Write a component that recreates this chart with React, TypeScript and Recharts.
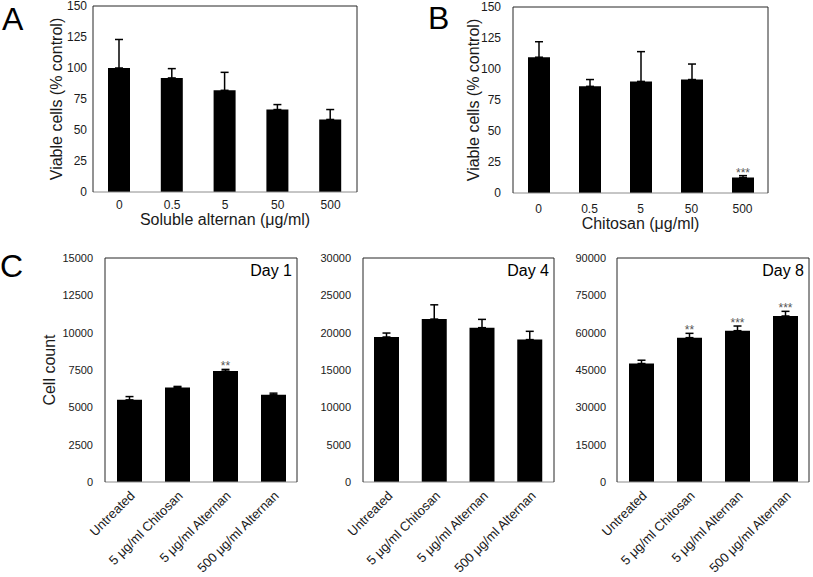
import React from "react";
import { Bar, BarChart, ErrorBar, LabelList, XAxis, YAxis } from "recharts";

const FONT = "'Liberation Sans', Arial, Helvetica, sans-serif";
const BOX = "#262626";
const BASE = "#8c8c8c";
const TEXT = "#1a1a1a";

// panel A / B
const concentrations = ["0", "0.5", "5", "50", "500"];
const alternanViability = [100, 92, 82, 66.5, 58.5];
const alternanViabilityErr = [23, 7.5, 14.5, 4, 8];
const alternanSig = ["", "", "", "", ""];
const chitosanViability = [109.5, 86, 90, 91.5, 12.5];
const chitosanViabilityErr = [12.5, 5.5, 24, 12.5, 1.5];
const chitosanSig = ["", "", "", "", "***"];
const viabilityTicks = [0, 25, 50, 75, 100, 125, 150];

// panel C
const treatments = [
  "Untreated",
  "5 μg/ml Chitosan",
  "5 μg/ml Alternan",
  "500 μg/ml Alternan",
];
const day1Counts = [5500, 6330, 7430, 5840];
const day1Err = [220, 70, 110, 110];
const day1Sig = ["", "", "**", ""];
const day1Ticks = [0, 2500, 5000, 7500, 10000, 12500, 15000];
const day4Counts = [19420, 21820, 20670, 19070];
const day4Err = [530, 1910, 1110, 1110];
const day4Sig = ["", "", "", ""];
const day4Ticks = [0, 5000, 10000, 15000, 20000, 25000, 30000];
const day8Counts = [47600, 58000, 60800, 66700];
const day8Err = [1330, 1730, 1870, 1870];
const day8Sig = ["", "**", "***", "***"];
const day8Ticks = [0, 15000, 30000, 45000, 60000, 75000, 90000];

type Margin = { top: number; right: number; bottom: number; left: number };

type PanelProps = {
  categories: string[];
  values: number[];
  errors: number[];
  sig: string[];
  ticks: number[];
  width: number;
  height: number;
  margin: Margin;
  yAxisWidth: number;
  xAxisHeight: number;
  barSize: number;
  tickFont: number;
  yTickMargin: number;
  xTitle?: string;
  xTitleOffset?: number;
  xTickMargin?: number;
  yTitle?: string;
  yTitleOffset?: number;
  corner?: string;
  rotated?: boolean;
};

// the top and right axes only draw the frame; they need 1px of room or recharts skips them
function Panel(p: PanelProps) {
  const rows = p.categories.map((name, i) => ({
    name,
    value: p.values[i],
    err: [0, p.errors[i]],
    sig: p.sig[i],
  }));

  const renderSig = (props: any) => {
    const { x, y, width, height, index, value } = props;
    if (!value) return null;
    const row = rows[index];
    const perUnit = height / row.value;
    const top = y - row.err[1] * perUnit;
    return (
      <text
        x={x + width / 2}
        y={top + 1}
        textAnchor="middle"
        fontSize={12}
        fill="#555"
        fontFamily={FONT}
      >
        {value}
      </text>
    );
  };

  const renderCorner = (props: any) => {
    const vb = props.viewBox;
    if (!p.corner || !vb) return null;
    return (
      <text
        x={vb.x + vb.width - 5}
        y={vb.y + 19}
        textAnchor="end"
        fontSize={16}
        fill="#000"
        fontFamily={FONT}
      >
        {p.corner}
      </text>
    );
  };

  const m = p.margin;
  return (
    <BarChart
      width={p.width}
      height={p.height}
      data={rows}
      margin={{ ...m, top: m.top - 1, right: m.right - 1 }}
      style={{ fontFamily: FONT }}
    >
      <XAxis
        dataKey="name"
        interval={0}
        height={p.xAxisHeight}
        tickLine={false}
        tickMargin={p.xTickMargin ?? 2}
        axisLine={{ stroke: BASE }}
        tick={
          p.rotated
            ? { angle: -45, textAnchor: "end", fontSize: 13, fill: TEXT }
            : { fontSize: 12, fill: TEXT }
        }
        label={
          p.xTitle
            ? {
                value: p.xTitle,
                position: "insideBottom",
                offset: p.xTitleOffset ?? 7,
                fontSize: 16,
                fill: TEXT,
              }
            : undefined
        }
      />
      <XAxis
        xAxisId="top"
        dataKey="name"
        orientation="top"
        height={1}
        tick={false}
        tickLine={false}
        axisLine={{ stroke: BOX }}
        label={p.corner ? { value: p.corner, content: renderCorner } : undefined}
      />
      <YAxis
        domain={[0, p.ticks[p.ticks.length - 1]]}
        ticks={p.ticks}
        interval={0}
        width={p.yAxisWidth}
        tickLine={false}
        tickMargin={p.yTickMargin}
        axisLine={{ stroke: BOX }}
        tick={{ fontSize: p.tickFont, fill: TEXT }}
        label={
          p.yTitle
            ? {
                value: p.yTitle,
                angle: -90,
                position: "insideLeft",
                offset: p.yTitleOffset ?? 50,
                fontSize: 16,
                fill: TEXT,
                style: { textAnchor: "middle" },
              }
            : undefined
        }
      />
      <YAxis
        yAxisId="right"
        orientation="right"
        domain={[0, 1]}
        width={1}
        tick={false}
        tickLine={false}
        axisLine={{ stroke: BOX }}
      />
      <Bar dataKey="value" fill="#000" barSize={p.barSize} isAnimationActive={false}>
        <ErrorBar
          dataKey="err"
          direction="y"
          width={4}
          stroke="#000"
          strokeWidth={1.5}
        />
        <LabelList dataKey="sig" content={renderSig} />
      </Bar>
    </BarChart>
  );
}

const letterStyle: React.CSSProperties = {
  position: "absolute",
  fontFamily: FONT,
  fontSize: 32,
  lineHeight: "32px",
  color: "#000",
};

export default function App() {
  return (
    <div
      style={{
        position: "absolute",
        left: 0,
        top: 0,
        width: 813,
        height: 577,
        background: "#fff",
        overflow: "hidden",
      }}
    >
      <div style={{ ...letterStyle, left: 2, top: 3 }}>A</div>
      <div style={{ ...letterStyle, left: 428, top: 2 }}>B</div>
      <div style={{ ...letterStyle, left: 0, top: 250 }}>C</div>

      <div style={{ position: "absolute", left: 0, top: 0 }}>
        <Panel
          categories={concentrations}
          values={alternanViability}
          errors={alternanViabilityErr}
          sig={alternanSig}
          ticks={viabilityTicks}
          width={410}
          height={240}
          margin={{ top: 6, right: 53, bottom: 8, left: 0 }}
          yAxisWidth={93}
          xAxisHeight={40}
          barSize={22}
          tickFont={12}
          yTickMargin={0}
          xTitle="Soluble alternan (μg/ml)"
          xTitleOffset={7}
          yTitle="Viable cells (% control)"
          yTitleOffset={56}
        />
      </div>
      <div style={{ position: "absolute", left: 410, top: 0 }}>
        <Panel
          categories={concentrations}
          values={chitosanViability}
          errors={chitosanViabilityErr}
          sig={chitosanSig}
          ticks={viabilityTicks}
          width={403}
          height={240}
          margin={{ top: 7, right: 45, bottom: 7, left: 0 }}
          yAxisWidth={103}
          xAxisHeight={40}
          barSize={22}
          tickFont={12}
          yTickMargin={6}
          xTickMargin={5}
          xTitle="Chitosan (μg/ml)"
          xTitleOffset={4}
          yTitle="Viable cells (% control)"
          yTitleOffset={63}
        />
      </div>
      <div style={{ position: "absolute", left: 0, top: 240 }}>
        <Panel
          categories={treatments}
          values={day1Counts}
          errors={day1Err}
          sig={day1Sig}
          ticks={day1Ticks}
          width={300}
          height={337}
          margin={{ top: 18, right: 3, bottom: 0, left: 0 }}
          yAxisWidth={105}
          xAxisHeight={95}
          barSize={25}
          tickFont={11}
          yTickMargin={6}
          rotated
          yTitle="Cell count"
          yTitleOffset={49}
          corner="Day 1"
        />
      </div>
      <div style={{ position: "absolute", left: 300, top: 240 }}>
        <Panel
          categories={treatments}
          values={day4Counts}
          errors={day4Err}
          sig={day4Sig}
          ticks={day4Ticks}
          width={260}
          height={337}
          margin={{ top: 18, right: 6, bottom: 0, left: 0 }}
          yAxisWidth={63}
          xAxisHeight={95}
          barSize={25}
          tickFont={11}
          yTickMargin={6}
          rotated
          corner="Day 4"
        />
      </div>
      <div style={{ position: "absolute", left: 560, top: 240 }}>
        <Panel
          categories={treatments}
          values={day8Counts}
          errors={day8Err}
          sig={day8Sig}
          ticks={day8Ticks}
          width={253}
          height={337}
          margin={{ top: 18, right: 4, bottom: 0, left: 0 }}
          yAxisWidth={57}
          xAxisHeight={95}
          barSize={25}
          tickFont={11}
          yTickMargin={5}
          rotated
          corner="Day 8"
        />
      </div>
    </div>
  );
}
